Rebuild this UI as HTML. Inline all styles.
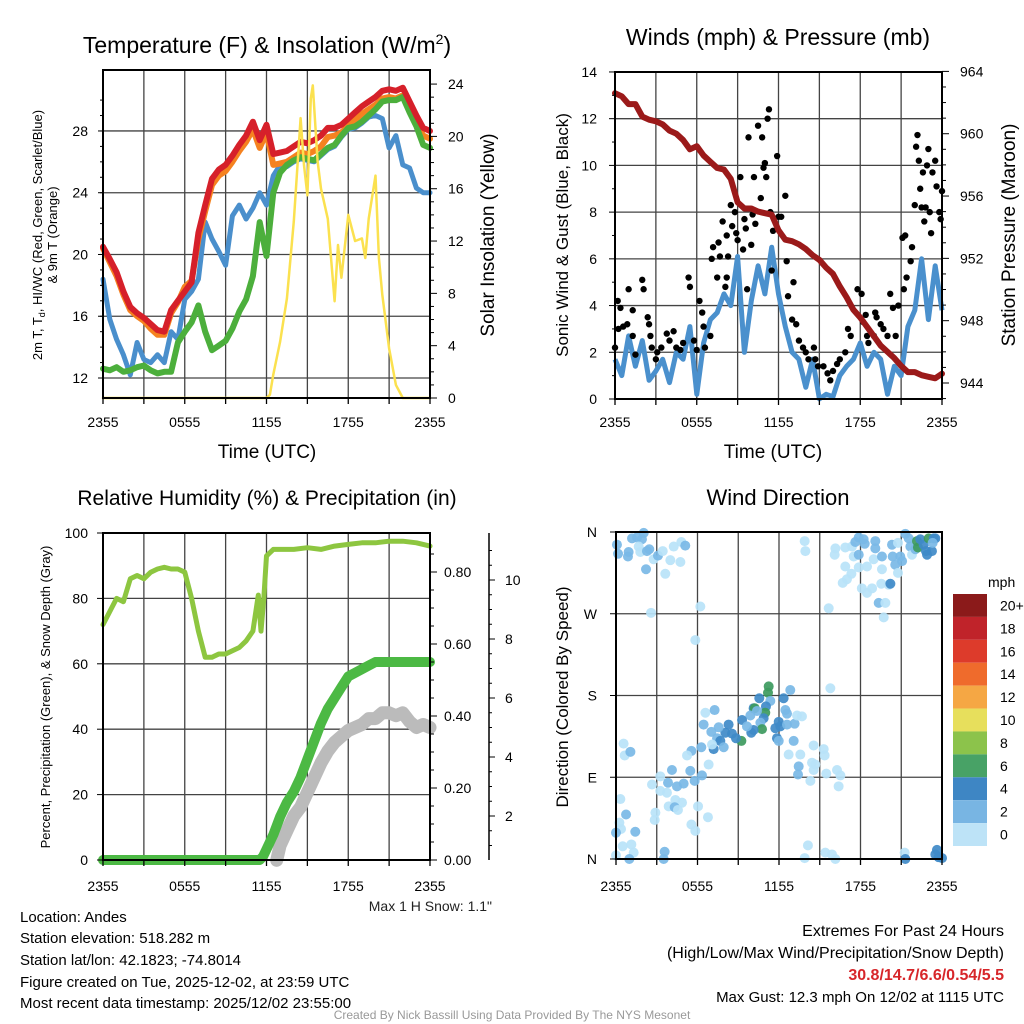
<!DOCTYPE html>
<html><head><meta charset="utf-8"><style>
html,body{margin:0;padding:0;background:#fff;}
svg{display:block;font-family:"Liberation Sans",Arial,sans-serif;}
</style></head><body>
<svg id="s" width="1024" height="1024" viewBox="0 0 1024 1024">
<rect width="1024" height="1024" fill="#fff"/>
<g id="p1"></g>
<g id="p2"></g>
<g id="p3"></g>
<g id="p4"></g>
<g id="txt">
<text x="20" y="922" font-size="15">Location: Andes</text>
<text x="20" y="943" font-size="15">Station elevation: 518.282 m</text>
<text x="20" y="965" font-size="15">Station lat/lon: 42.1823; -74.8014</text>
<text x="20" y="987" font-size="15">Figure created on Tue, 2025-12-02, at 23:59 UTC</text>
<text x="20" y="1008" font-size="15">Most recent data timestamp: 2025/12/02 23:55:00</text>
<text x="492" y="911" font-size="14" text-anchor="end" fill="#222">Max 1 H Snow: 1.1"</text>
<text x="1004" y="936" font-size="16" text-anchor="end">Extremes For Past 24 Hours</text>
<text x="1004" y="958" font-size="16" text-anchor="end">(High/Low/Max Wind/Precipitation/Snow Depth)</text>
<text x="1004" y="980" font-size="16" text-anchor="end" font-weight="bold" fill="#d7262a">30.8/14.7/6.6/0.54/5.5</text>
<text x="1004" y="1002" font-size="15" text-anchor="end">Max Gust: 12.3 mph On 12/02 at 1115 UTC</text>
<text x="512" y="1019" font-size="12" text-anchor="middle" fill="#999">Created By Nick Bassill Using Data Provided By The NYS Mesonet</text>
</g>
</svg>
<script>
// ---------- data ----------
const xTickLabels=["2355","0555","1155","1755","2355"];
const halfHours=[];for(let i=0;i<=48;i++)halfHours.push(i/2);
const tempRed=[20.5,19.7,18.85,17.6,16.6,16.2,15.9,15.5,15.1,15.0,16.4,17.0,17.6,18.2,21.4,23.2,24.9,25.5,25.8,26.4,27.1,27.7,28.6,27.4,28.4,26.5,26.6,26.7,27.0,27.3,27.2,27.4,27.7,28.2,28.2,28.4,28.8,29.2,29.6,29.9,30.2,30.6,30.7,30.6,30.8,29.9,29.0,28.2,28.0];
const tempOrange=[20.4,19.5,18.6,17.4,16.4,16.0,15.7,15.2,14.8,14.8,16.2,16.9,17.9,18.3,21.0,22.8,24.5,25.1,25.4,26.0,26.7,27.3,28.1,26.9,27.9,25.8,25.9,26.0,26.3,26.6,26.5,26.7,27.0,27.6,27.7,27.9,28.3,28.7,29.1,29.4,29.7,30.1,30.2,30.1,30.3,29.4,28.5,27.7,27.5];
const tempGreen=[12.6,12.5,12.7,12.4,12.5,12.7,12.8,12.5,12.3,12.4,12.4,14.3,15.0,15.6,16.7,15.0,13.8,14.1,14.4,15.2,16.3,17.1,18.6,22.1,19.9,24.0,25.3,25.8,26.1,26.3,26.2,26.1,26.5,26.9,27.1,27.7,28.2,28.3,28.6,29.0,29.4,29.9,30.0,30.0,30.2,29.2,28.3,27.1,26.9];
const tempBlue=[18.4,15.8,14.5,13.5,12.2,14.3,13.2,13.0,13.5,13.0,15.0,14.5,17.1,17.6,18.4,22.1,21.0,20.2,19.3,22.5,23.2,22.3,23.0,24.0,23.2,25.1,25.8,25.7,26.0,26.2,26.1,26.0,26.4,26.8,27.0,27.6,28.1,28.2,28.5,28.9,29.0,28.8,26.9,27.7,25.8,25.6,24.3,24.0,24.0];
const solarHours=[0,12,12.25,12.5,13,13.5,14,14.5,14.75,15,15.25,15.4,15.75,16,16.5,17,17.25,17.5,18,18.5,19,19.25,19.5,20,20.25,20.5,21,21.5,22,24];
const solarValues=[0,0,0.25,1.8,4.3,7.6,13.5,21.4,17.8,15.5,22.9,23.9,18.1,16.0,13.7,7.4,11.7,9.2,14.0,12.0,12.2,10.7,13.7,17.0,10.7,7.9,3.8,1.0,0,0];
const tempTicks=[12,16,20,24,28];
const solarTicks=[0,4,8,12,16,20,24];

const pressure=[962.6,962.4,961.9,961.9,961.1,960.9,960.8,960.6,960.2,960.0,959.6,959.0,959.2,958.6,958.2,957.8,957.7,957.1,955.6,955.2,955.2,955.0,954.9,954.8,953.8,953.2,953.1,952.9,952.6,952.2,951.9,951.4,951.0,950.2,949.5,948.7,948.2,947.6,947.0,946.4,946.0,945.6,945.1,944.7,944.7,944.5,944.4,944.3,944.6];
const windSpeed=[1.7,1.0,2.7,1.4,2.5,0.8,1.2,1.7,0.7,2.0,1.7,3.1,0.2,2.4,3.4,3.7,4.5,4.0,6.1,2.0,4.2,5.7,4.5,6.5,4.5,3.1,2.0,1.7,0.5,1.7,0,0.2,0.1,1.0,1.4,1.7,2.4,1.4,2.0,1.7,0.2,1.4,1.0,3.1,3.8,6.0,3.4,5.7,3.8];
const gustHours=[0.2,0.4,0,0.25,0.6,1.0,1.3,0.9,1.3,1.5,2.0,2.1,2.4,2.5,2.6,2.7,3.0,3.1,3.4,3.8,4.0,4.3,4.5,4.8,5.0,5.4,5.5,5.8,6.0,6.2,6.4,6.5,6.6,7.0,7.1,7.2,7.5,7.6,7.7,7.9,8.1,8.2,8.3,8.2,8.5,8.6,8.8,8.9,9.0,9.2,9.4,9.5,9.6,9.7,9.8,10.0,10.1,10.2,10.3,10.5,10.7,10.8,10.9,11.0,11.1,11.2,11.3,11.4,11.5,11.6,11.9,12.0,12.2,12.5,12.6,12.7,13.1,13.0,13.3,13.5,13.8,14.0,14.2,14.6,14.7,14.9,15.3,15.6,15.8,16.0,16.3,16.5,16.9,17.1,17.3,17.8,18.1,18.2,18.4,18.5,18.6,19.0,19.1,19.2,19.5,19.7,20.0,20.2,20.4,20.6,20.8,21.1,21.2,21.3,21.4,21.7,21.8,22.0,22.1,22.2,22.3,22.4,22.5,22.6,22.7,22.8,22.9,23.0,23.1,23.2,23.3,23.5,23.6,23.8,23.9,24.0];
const gustValues=[4.2,3.9,2.2,3.0,3.1,4.7,3.8,3.2,2.7,1.9,5.1,4.7,3.5,3.2,2.7,2.2,1.7,2.0,2.2,2.8,2.5,2.9,2.2,2.1,2.4,5.2,4.8,2.5,2.1,4.2,3.7,3.1,2.2,2.7,6.0,6.5,5.2,6.7,6.1,7.6,4.8,7.0,6.1,5.2,8.3,7.4,8.0,7.1,6.8,9.5,6.4,7.7,7.3,4.7,11.2,6.6,7.9,9.5,7.5,11.7,8.6,11.2,9.9,10.1,9.5,12.0,12.4,8.0,5.5,7.2,10.4,7.8,7.8,8.7,5.9,4.4,5.0,3.4,3.2,2.5,2.2,2.0,1.7,2.2,1.7,1.4,1.4,1.1,0.8,1.2,1.5,1.7,2.0,3.0,2.7,4.7,4.5,3.3,3.6,2.7,2.4,2.7,3.7,3.5,3.2,3.0,2.7,4.5,3.9,2.7,4.0,6.9,4.7,7.0,5.2,5.9,6.5,8.3,10.8,11.3,10.2,9.0,8.2,9.7,7.6,8.2,10.0,10.7,8.0,7.1,9.7,10.2,9.1,8.0,7.7,8.9];
const windTicks=[0,2,4,6,8,10,12,14];
const pressTicks=[944,948,952,956,960,964];

const rhHours=[0,0.5,1,1.5,2,2.5,3,3.5,4,4.5,5,5.5,6,6.5,7,7.5,8,8.5,9,9.5,10,10.5,11,11.4,11.6,11.8,12,12.5,13,14,15,16,17,18,19,20,21,22,23,24];
const rhValues=[72,76,80,79,86,87,86,88,89,89.5,89,89,88,80,70,62,62,63,63,64,65,67,70,81,70,80,93,95,95,95,95.5,95,96,96.5,97,97,97.5,97.5,97,96];
const precipHours=[0,11.5,11.75,12,12.5,13,13.5,14,14.5,15,15.5,16,16.5,17,17.5,18,18.5,19,19.5,20,20.5,21,22,24];
const precipValues=[0,0,0.01,0.03,0.07,0.12,0.16,0.19,0.23,0.28,0.33,0.38,0.42,0.45,0.48,0.51,0.52,0.53,0.54,0.55,0.55,0.55,0.55,0.55];
const snowHours=[12.75,13,13.5,14,14.5,15,15.5,16,16.5,17,17.5,18,18.5,19,19.5,20,20.5,21,21.5,22,22.5,23,23.5,24];
const snowValues=[0.5,1.0,1.5,2.0,2.3,2.8,3.3,3.8,4.2,4.5,4.7,4.9,5.0,5.1,5.3,5.3,5.5,5.5,5.4,5.5,5.2,5.0,5.1,5.0];
const rhTicks=[0,20,40,60,80,100];
const precipTicks=[0,0.2,0.4,0.6,0.8];
const snowTicks=[2,4,6,8,10];

const dirHours=[0.07,0.15,0.88,0.93,1.18,1.55,1.91,2.04,1.67,1.79,2.28,2.45,2.77,3.09,3.44,3.63,4.0,4.25,4.74,4.81,5.1,2.21,2.58,6.21,5.84,13.89,13.94,16.1,16.15,15.66,16.88,17.37,17.5,17.62,17.87,18.23,18.31,17.87,16.88,17.33,16.69,17.0,17.87,18.48,18.1,18.48,18.85,18.97,19.09,19.09,19.58,19.58,19.53,20.07,20.2,19.34,19.83,19.71,20.32,20.37,20.56,20.76,20.76,20.93,21.06,21.3,21.55,21.67,21.79,22.04,22.16,22.23,22.4,22.65,22.82,23.02,23.26,23.39,23.51,23.31,22.9,11.24,11.19,12.83,15.78,10.55,11.36,12.34,10.13,10.21,11.04,10.99,10.87,10.38,9.89,12.47,12.59,9.28,10.63,10.75,10.13,9.96,9.64,11.98,11.73,12.1,12.59,13.15,13.33,13.69,11.85,11.98,13.08,9.23,8.83,8.54,8.29,8.05,7.56,7.44,7.68,7.02,6.45,6.58,7.26,7.19,7.93,7.07,6.28,5.55,5.23,6.82,14.55,15.29,15.36,12.71,13.57,13.45,14.43,14.67,14.55,13.4,14.31,15.48,16.27,16.52,16.39,0.56,0.64,1.06,4.12,3.26,2.65,3.83,4.49,4.98,5.47,5.79,6.33,3.26,3.75,4.37,4.86,3.88,4.32,4.56,6.04,2.9,2.85,6.77,5.55,5.84,0.32,0.74,0.25,0.37,1.42,0,0.49,1.13,1.3,0,0.98,3.58,3.51,14.13,13.89,15.41,15.9,16.15,21.25,21.3,23.63,23.51,23.75,24.0];
const dirDegrees=[346,336,333,338,353,354,352,359,344,338,339,341,330,334,339,314,329,344,327,349,345,319,271,278,241,350,339,335,342,276,343,344,333,349,354,352,347,335,322,314,304,308,321,322,298,293,298,330,350,342,333,319,303,302,303,282,282,266,346,333,324,315,348,333,328,358,353,344,335,341,350,343,352,346,339,353,339,353,353,348,335,190,183,186,188,177,174,177,166,166,168,161,155,163,158,164,160,153,150,143,142,139,146,151,144,146,148,149,158,157,133,130,130,130,133,138,148,139,145,133,130,140,148,161,164,121,123,126,123,119,114,104,125,121,114,115,115,102,106,104,98,93,86,94,98,92,80,127,114,118,98,91,82,84,80,83,97,86,92,75,73,65,62,58,57,54,58,51,43,46,38,31,66,49,40,33,30,29,14,16,7,4,0,8,0,15,1,7,5,0,7,0,10,5,2,1];
const dirSpeeds=[3,3,3,3,3,3,3,3,1,1,3,3,1,3,1,1,1,1,1,1,3,3,1,1,1,1,1,1,1,1,1,1,1,3,3,3,3,3,1,1,1,1,1,1,1,1,1,1,3,3,3,1,1,1,5,3,1,1,3,3,3,1,1,3,3,3,3,3,1,3,7,7,5,5,5,7,5,5,5,3,5,7,7,3,1,5,3,5,5,7,5,7,5,3,3,3,3,5,3,7,5,5,3,5,5,5,3,3,1,1,5,3,3,7,5,5,5,5,3,3,5,3,3,1,3,5,3,1,3,3,1,1,1,1,1,1,1,3,1,1,1,3,1,1,1,1,1,1,1,3,3,1,1,3,3,3,3,3,3,1,1,1,1,1,3,1,1,1,1,1,1,1,1,3,1,1,3,3,1,1,1,1,3,3,3,1,1,1,1,1,1,5,5,5,5,5,5];
const dirTickLabels=["N","E","S","W","N"];
const legendLabels=["20+","18","16","14","12","10","8","6","4","2","0"];
const legendColors=["#8b1a1a","#c0232a","#dd3b2b","#ef6b2c","#f5a744","#e7df5c","#8cc34b","#48a266","#3e86c4","#78b5e3","#bde3f7"];

// ---------- helpers ----------
const NS="http://www.w3.org/2000/svg";
function mk(parent,tag,attrs){const e=document.createElementNS(NS,tag);for(const k in attrs)e.setAttribute(k,attrs[k]);parent.appendChild(e);return e;}
function txt(parent,x,y,s,size,anchor,extra){const t=mk(parent,"text",Object.assign({x:x,y:y,"font-size":size,"text-anchor":anchor||"start"},extra||{}));t.textContent=s;return t;}
function pathD(xs,ys,fx,fy){let d="";for(let i=0;i<xs.length;i++){d+=(i?"L":"M")+fx(xs[i]).toFixed(1)+","+fy(ys[i]).toFixed(1);}return d;}
function frame(g,L,R,T,B,hGrid,fy){
  for(let i=1;i<8;i++){const x=L+(R-L)*i/8;const l=mk(g,"line",{x1:x,x2:x,y1:T,y2:B,stroke:"#444","stroke-width":1.3});
    
    }
  hGrid.forEach(v=>{const y=fy(v);const l=mk(g,"line",{x1:L,x2:R,y1:y,y2:y,stroke:"#444","stroke-width":1.3});
    
    });
}
function border(g,L,R,T,B){const r=mk(g,"rect",{x:L,y:T,width:R-L,height:B-T,fill:"none",stroke:"#000","stroke-width":2});
  
  }
function xAxis(g,L,R,B,ly){
  xTickLabels.forEach((s,i)=>{const x=L+(R-L)*i/4;const t=txt(g,x,ly,s,14,"middle");
    
    });
  for(let i=0;i<=8;i++){const x=L+(R-L)*i/8;mk(g,"line",{x1:x,x2:x,y1:B,y2:B+6,stroke:"#000","stroke-width":1.3});}
}

// ---------- panel 1 ----------
(function(){
const g=document.getElementById("p1");const L=103,R=430,T=70,B=398;
const fx=h=>L+h*(R-L)/24, fy=v=>378-(v-12)*15.44, fs=v=>398-v*13.08;
frame(g,L,R,T,B,tempTicks,fy);
const lines=[[halfHours,tempBlue,"#4a8fcc",5,"dew-blue-line"],[halfHours,tempOrange,"#f58220",6,"temp-9m-orange-line"],[halfHours,tempGreen,"#4caf3c",6,"dewpoint-green-line"],[halfHours,tempRed,"#d6202a",6,"temp-2m-red-line"],[solarHours,solarValues,"#fbe14f",2.5,"solar-insolation-line"]];
lines.forEach(a=>{const f=a===lines[4]?fs:fy;const p=mk(g,"path",{d:pathD(a[0],a[1],fx,f),fill:"none",stroke:a[2],"stroke-width":a[3],"stroke-linejoin":"round","stroke-linecap":"round"});
  
  });
border(g,L,R,T,B);
tempTicks.forEach(v=>{const t=txt(g,88,fy(v)+5,String(v),14,"end");
  
  
  mk(g,"line",{x1:L-5,x2:L,y1:fy(v),y2:fy(v),stroke:"#000"});});
for(let v=12;v<=30;v++)mk(g,"line",{x1:L-3,x2:L,y1:fy(v),y2:fy(v),stroke:"#000"});
for(let v=0;v<=24;v++){mk(g,"line",{x1:R,x2:R+(v%4?4:7),y1:fs(v),y2:fs(v),stroke:"#000"});}
solarTicks.forEach(v=>{const t=txt(g,448,fs(v)+5,String(v),14,"start");
  
  });
xAxis(g,L,R,B,427);
let t=txt(g,267,458,"Time (UTC)",19,"middle");
t=mk(g,"text",{x:267,y:53,"font-size":23,"text-anchor":"middle"});t.innerHTML='Temperature (F) &amp; Insolation (W/m<tspan dy="-9" font-size="14">2</tspan><tspan dy="9">)</tspan>';

t=mk(g,"text",{transform:"translate(42,235) rotate(-90)","font-size":13,"text-anchor":"middle"});t.innerHTML='2m T, T<tspan dy="3" font-size="9">d</tspan><tspan dy="-3">, HI/WC (Red, Green, Scarlet/Blue)</tspan>';

t=txt(g,0,0,"& 9m T (Orange)",13,"middle",{transform:"translate(57,235) rotate(-90)"});
t=txt(g,0,0,"Solar Insolation (Yellow)",19,"middle",{transform:"translate(494,235) rotate(-90)"});
})();

// ---------- panel 2 ----------
(function(){
const g=document.getElementById("p2");const L=615,R=942,T=72,B=399;
const fx=h=>L+h*(R-L)/24, fy=v=>399-v*23.36, fp=p=>383-(p-944)*15.58;
frame(g,L,R,T,B,[2,4,6,8,10,12],fy);
let p=mk(g,"path",{d:pathD(halfHours,windSpeed,fx,fy),fill:"none",stroke:"#4a90cd","stroke-width":5,"stroke-linejoin":"round"});

gustHours.forEach((h,i)=>{const c=mk(g,"circle",{cx:fx(h),cy:fy(gustValues[i]),r:3.2,fill:"#000"});
  
  });
p=mk(g,"path",{d:pathD(halfHours,pressure,fx,fp),fill:"none",stroke:"#9b1a1a","stroke-width":6,"stroke-linejoin":"round","stroke-linecap":"round"});

border(g,L,R,T,B);
windTicks.forEach(v=>{const t=txt(g,597,fy(v)+5,String(v),14,"end");
  
  mk(g,"line",{x1:L-6,x2:L,y1:fy(v),y2:fy(v),stroke:"#000"});});
for(let v=1;v<14;v+=2)mk(g,"line",{x1:L-3,x2:L,y1:fy(v),y2:fy(v),stroke:"#000"});
for(let v=943;v<=964;v++)mk(g,"line",{x1:R,x2:R+(v%4?4:7),y1:fp(v),y2:fp(v),stroke:"#000"});
pressTicks.forEach(v=>{const t=txt(g,960,fp(v)+5,String(v),14,"start");
  });
xAxis(g,L,R,B,427);
let t=txt(g,773,458,"Time (UTC)",19,"middle");
t=txt(g,778,45,"Winds (mph) & Pressure (mb)",23,"middle");
t=txt(g,0,0,"Sonic Wind & Gust (Blue, Black)",17,"middle",{transform:"translate(568,235) rotate(-90)"});
t=txt(g,0,0,"Station Pressure (Maroon)",19,"middle",{transform:"translate(1015,235) rotate(-90)"});
})();

// ---------- panel 3 ----------
(function(){
const g=document.getElementById("p3");const L=103,R=430,T=533,B=860;
const fx=h=>L+h*(R-L)/24, fy=v=>860-v*3.27, fpr=v=>860-v*360, fsn=v=>875-v*29.5;
frame(g,L,R,T,B,[20,40,60,80],fy);
let p=mk(g,"path",{d:pathD(snowHours,snowValues,fx,fsn),fill:"none",stroke:"#bbbbbb","stroke-width":13,"stroke-linejoin":"round","stroke-linecap":"round"});

p=mk(g,"path",{d:pathD(precipHours,precipValues,fx,fpr),fill:"none",stroke:"#4cb944","stroke-width":10,"stroke-linejoin":"round","stroke-linecap":"round"});

p=mk(g,"path",{d:pathD(rhHours,rhValues,fx,fy),fill:"none",stroke:"#8dc640","stroke-width":5,"stroke-linejoin":"round","stroke-linecap":"round"});

border(g,L,R,T,B);
rhTicks.forEach(v=>{const t=txt(g,88,fy(v)+5,String(v),14,"end");
  
  mk(g,"line",{x1:L-6,x2:L,y1:fy(v),y2:fy(v),stroke:"#000"});});
for(let v=0;v<=0.9;v+=0.05)mk(g,"line",{x1:R,x2:R+(Math.round(v*20)%4?4:7),y1:fpr(v),y2:fpr(v),stroke:"#000"});
precipTicks.forEach(v=>{const t=txt(g,444,fpr(v)+5,v.toFixed(2),14,"start");
  });
mk(g,"line",{x1:489,x2:489,y1:533,y2:860,stroke:"#000","stroke-width":1.5});
for(let v=1;v<=11;v+=0.5)mk(g,"line",{x1:489,x2:489+(v%2===0?6:3),y1:fsn(v),y2:fsn(v),stroke:"#000"});
snowTicks.forEach(v=>{const t=txt(g,505,fsn(v)+5,String(v),14,"start");
  });
xAxis(g,L,R,B,891);
let t=txt(g,267,505,"Relative Humidity (%) & Precipitation (in)",21,"middle");
t=txt(g,0,0,"Percent, Precipitation (Green), & Snow Depth (Gray)",13,"middle",{transform:"translate(50,697) rotate(-90)"});
})();

// ---------- panel 4 ----------
(function(){
const g=document.getElementById("p4");const L=616,R=942,T=532,B=859;
const fx=h=>L+h*(R-L)/24, fy=d=>859-d*(327/360);
frame(g,L,R,T,B,[90,180,270],fy);
const col=s=>s>=6?"#3d9a5e":s>=4?"#3f8ac8":s>=2?"#7ab8e6":"#b9e3f9";
dirHours.forEach((h,i)=>{const c=mk(g,"circle",{cx:fx(h),cy:fy(dirDegrees[i]),r:5,fill:col(dirSpeeds[i]),"fill-opacity":0.92});
  
  });
border(g,L,R,T,B);
dirTickLabels.forEach((s,i)=>{const y=fy(i*90);const t=txt(g,597,y+5,s,14,"end");
  
  mk(g,"line",{x1:L-6,x2:L,y1:y,y2:y,stroke:"#000"});});
xAxis(g,L,R,B,891);
let t=txt(g,778,505,"Wind Direction",22,"middle");
t=txt(g,0,0,"Direction (Colored By Speed)",17,"middle",{transform:"translate(568,697) rotate(-90)"});
t=txt(g,988,587,"mph",14,"start");
const bh=(846-594)/legendLabels.length;
legendLabels.forEach((s,i)=>{const y=594+i*bh;
  const r=mk(g,"rect",{x:953,y:y,width:34,height:bh,fill:legendColors[i]});
  
  const tt=txt(g,1000,y+bh/2+5,s,14,"start");
  });
})();
</script>
</body></html>
